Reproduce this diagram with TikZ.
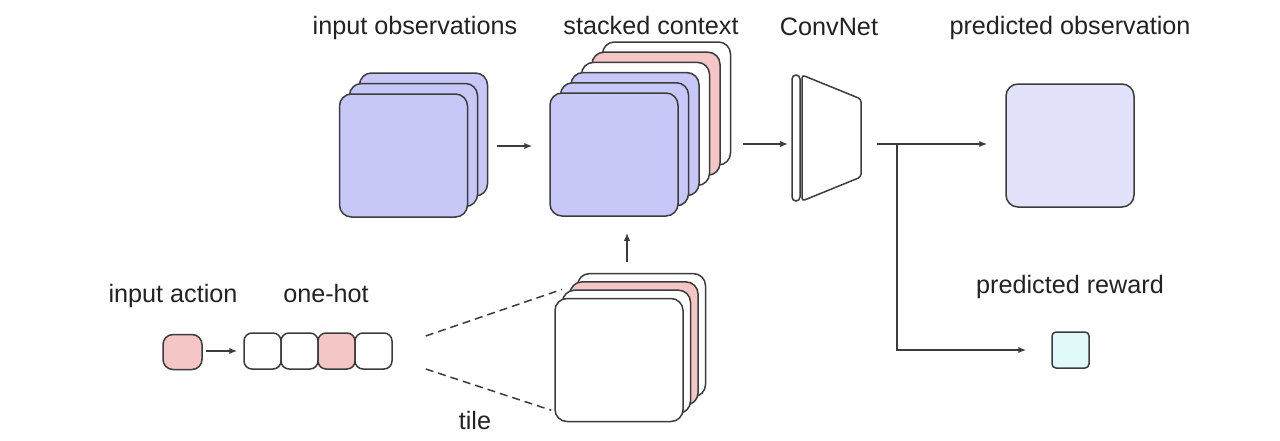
\documentclass[tikz,border=0pt]{standalone}
\usepackage{fontspec}
\setmainfont{Liberation Sans}
\usepackage{xcolor}
\definecolor{cBlue}{RGB}{200,200,248}
\definecolor{cPink}{RGB}{244,198,198}
\definecolor{cLav}{RGB}{226,226,251}
\definecolor{cCyan}{RGB}{224,250,250}
\definecolor{cLine}{RGB}{60,60,60}
\definecolor{cText}{RGB}{34,34,34}
\usepackage{tikz}
\usetikzlibrary{positioning, calc, arrows.meta}

\begin{document}
\begin{tikzpicture}[x=0.5pt, y=-0.5pt, font=\fontsize{12.6}{15}\selectfont, line width=0.75pt,
    ar/.style={-{Latex[length=4pt,width=3.2pt]}, cLine},
    frame/.style={draw=cLine, rounded corners=6pt, minimum width=64pt, minimum height=61.5pt, inner sep=0pt},
    cell/.style={draw=cLine, rounded corners=4pt, minimum width=18.5pt, minimum height=18pt, inner sep=0pt},
    lbl/.style={text=cText, anchor=base}]
    \useasboundingbox (0,0) rectangle (1280,440);

    % ---------- input observations ----------
    \foreach \i in {2,1,0}
      \node[frame, fill=cBlue] (obs\i) at ({403.5+10*\i},{155.5-10.5*\i}) {};

    % ---------- stacked context ----------
    \foreach \i/\c in {5/white,4/cPink,3/white,2/cBlue,1/cBlue,0/cBlue}
      \node[frame, fill=\c] (ctx\i) at ({614+10.5*\i},{154.5-10.2*\i}) {};

    % ---------- tiled action ----------
    \foreach \i/\c in {3/white,2/cPink,1/white,0/white}
      \node[frame, fill=\c] (tile\i) at ({619+7.5*\i},{360-8.3*\i}) {};

    % ---------- action and one-hot ----------
    \node[cell, fill=cPink, minimum width=19.5pt, minimum height=17.5pt, rounded corners=5pt] (act) at (182.5,352) {};
    \foreach \i/\c in {1/white,2/white,3/cPink,4/white}
      \node[cell, fill=\c] (hot\i) at ({225.5+37*\i},351) {};

    % ---------- ConvNet ----------
    \draw[cLine, fill=white, rounded corners=2pt] (792,75) rectangle (800,201);
    \draw[cLine, fill=white, rounded corners=1.5pt] (802,75) -- (861,99) -- (861,177) -- (802,201) -- cycle;
    \coordinate (cin) at (788,144);
    \coordinate (cout) at (877,144);
    \coordinate (split) at (897,144);

    % ---------- outputs ----------
    \node[frame, fill=cLav] (pobs) at (1070,145.5) {};
    \node[frame, fill=cCyan, minimum width=18.5pt, minimum height=18pt, rounded corners=2pt] (rew) at (1070.5,350) {};

    % ---------- connectors ----------
    \draw[ar] ($(obs0.east)+(29,-9.5)$) -- ($(ctx0.west)+(-17,-8.5)$);
    \draw[ar] ($(ctx0.east)+(64,-10.5)$) -- (cin);
    \draw[ar] (cout) -- ($(pobs.west)+(-18,-1.5)$);
    \draw[ar] (split) |- ($(rew.west)+(-25,0)$);
    \draw[ar] ($(tile0.north)+(8,-36)$) -- ($(tile0.north)+(8,-65)$);
    \draw[ar] ($(act.east)+(3,-1)$) -- ($(hot1.west)+(-6,0)$);
    \draw[cLine, dash pattern=on 4pt off 2.5pt] ($(hot4.east)+(33,-15)$) -- (tile1.north west);
    \draw[cLine, dash pattern=on 4pt off 2.5pt] ($(hot4.east)+(33,18)$) -- ($(tile0.south west)+(-3,-12)$);

    % ---------- labels ----------
    \node[lbl] (tObs) at (415,34) {input observations};
    \node[lbl] (tCtx) at (651,34) {stacked context};
    \node[lbl] (tNet) at (829,35) {ConvNet};
    \node[lbl] (tPobs) at (1070,34) {predicted observation};
    \node[lbl] (tRew) at (1070,293) {predicted reward};
    \node[lbl] (tAct) at (173,302) {input action};
    \node[lbl] (tHot) at (326,302) {one-hot};
    \node[lbl] (tTile) at (475,429) {tile};

\end{tikzpicture}
\end{document}
